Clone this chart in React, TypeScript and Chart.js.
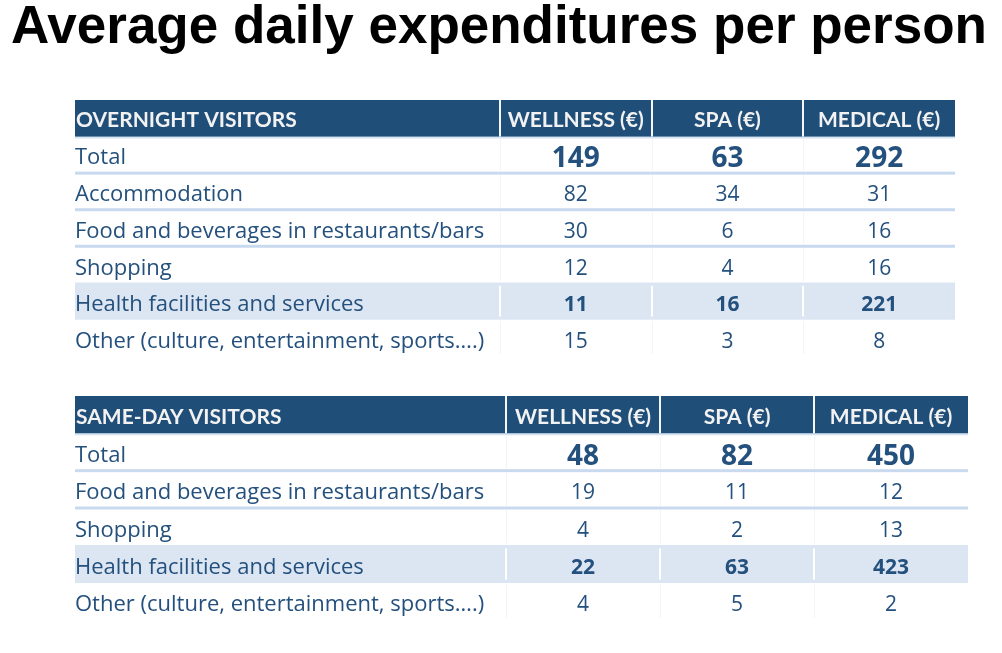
import React, { useEffect, useRef } from "react";
import { Chart, registerables } from "chart.js";

Chart.register(...registerables);

// ---------- data ----------
const TITLE = "Average daily expenditures per person";
const COLUMN_HEADERS = ["WELLNESS (€)", "SPA (€)", "MEDICAL (€)"];
const TOTAL_ROW = "Total";
const HIGHLIGHT_ROW = "Health facilities and services";

const OVERNIGHT_TITLE = "OVERNIGHT VISITORS";
const OVERNIGHT_CATEGORIES = [
  "Total",
  "Accommodation",
  "Food and beverages in restaurants/bars",
  "Shopping",
  "Health facilities and services",
  "Other (culture, entertainment, sports….)",
];
const OVERNIGHT_WELLNESS = [149, 82, 30, 12, 11, 15];
const OVERNIGHT_SPA = [63, 34, 6, 4, 16, 3];
const OVERNIGHT_MEDICAL = [292, 31, 16, 16, 221, 8];

const SAMEDAY_TITLE = "SAME-DAY VISITORS";
const SAMEDAY_CATEGORIES = [
  "Total",
  "Food and beverages in restaurants/bars",
  "Shopping",
  "Health facilities and services",
  "Other (culture, entertainment, sports….)",
];
const SAMEDAY_WELLNESS = [48, 19, 4, 22, 4];
const SAMEDAY_SPA = [82, 11, 2, 63, 5];
const SAMEDAY_MEDICAL = [450, 12, 13, 423, 2];

// ---------- style ----------
const LABEL_UNITS = 2.8; // width of label column in value-column units
const X_MAX = LABEL_UNITS + COLUMN_HEADERS.length;
const HEADER_BLUE = "#1f4e79";
const HIGHLIGHT_BLUE = "#dce6f2";
const SEPARATOR_BLUE = "#c9daef";
const TEXT_BLUE = "#24507d";
const HEADER_FONT = "Lato";
const BODY_FONT = '"Open Sans"';

function makeTablePlugin(values: number[][]) {
  return {
    id: "tableCells",
    afterDatasetsDraw(chart: any) {
      const { ctx } = chart;
      const xs = chart.scales.x;
      const ys = chart.scales.y;
      const labels: string[] = chart.data.labels;
      const n = labels.length;
      const rowH = ys.getPixelForValue(1) - ys.getPixelForValue(0);
      const edges = [0, LABEL_UNITS, LABEL_UNITS + 1, LABEL_UNITS + 2, LABEL_UNITS + 3].map((v) =>
        xs.getPixelForValue(v)
      );
      const left = edges[0];
      const right = edges[edges.length - 1];
      ctx.save();

      // separators & dividers
      for (let i = 0; i < n; i++) {
        const cy = ys.getPixelForValue(i);
        const top = cy - rowH / 2;
        const bottom = cy + rowH / 2;
        const isHeader = i === 0;
        const isHi = labels[i] === HIGHLIGHT_ROW;
        if (isHeader) {
          ctx.fillStyle = "#d6e3f2";
          ctx.fillRect(left, bottom, right - left, 2);
          ctx.fillStyle = "#f4f6f9";
          for (let k = 1; k < edges.length - 1; k++) ctx.fillRect(Math.round(edges[k]) - 1, top, 2, rowH);
        } else if (isHi) {
          ctx.fillStyle = "#ffffff";
          for (let k = 1; k < edges.length - 1; k++) ctx.fillRect(Math.round(edges[k]) - 1, top + 3, 2, rowH - 6);
        } else {
          ctx.fillStyle = "#f1f4f8";
          for (let k = 1; k < edges.length - 1; k++) ctx.fillRect(Math.round(edges[k]), top + 2, 1, rowH - 4);
          const next = labels[i + 1];
          if (i + 1 < n && next !== HIGHLIGHT_ROW) {
            ctx.fillStyle = SEPARATOR_BLUE;
            ctx.fillRect(left, bottom - 1.5, right - left, 3);
          }
        }
      }

      // text
      for (let i = 0; i < n; i++) {
        const cy = ys.getPixelForValue(i);
        if (i === 0) {
          ctx.fillStyle = "#f2f2f2";
          ctx.font = `bold 21px ${HEADER_FONT}`;
          ctx.textAlign = "left";
          ctx.textBaseline = "alphabetic";
          ctx.fillText(labels[0], left + 1, cy + 9);
          ctx.textAlign = "center";
          COLUMN_HEADERS.forEach((h, j) => {
            ctx.fillText(h, xs.getPixelForValue(LABEL_UNITS + j + 0.5), cy + 9);
          });
          continue;
        }
        const label = labels[i];
        const isTotal = label === TOTAL_ROW;
        const isHi = label === HIGHLIGHT_ROW;
        ctx.fillStyle = TEXT_BLUE;
        ctx.font = `22px ${BODY_FONT}`;
        ctx.textAlign = "left";
        ctx.fillText(label, left, cy + (isTotal ? 9.5 : 10));
        ctx.textAlign = "center";
        if (isTotal) ctx.font = `bold 28px ${BODY_FONT}`;
        else if (isHi) ctx.font = `bold 21px ${BODY_FONT}`;
        else ctx.font = `21px ${BODY_FONT}`;
        values.forEach((series, j) => {
          ctx.fillText(String(series[i - 1]), xs.getPixelForValue(LABEL_UNITS + j + 0.5), cy + (isTotal ? 12.5 : 10));
        });
      }
      ctx.restore();
    },
  };
}

type TableProps = {
  title: string;
  categories: string[];
  wellness: number[];
  spa: number[];
  medical: number[];
  left: number;
  top: number;
  width: number;
  height: number;
};

function ExpenditureTable({ title, categories, wellness, spa, medical, left, top, width, height }: TableProps) {
  const ref = useRef<HTMLCanvasElement>(null);
  useEffect(() => {
    if (!ref.current) return;
    const labels = [title, ...categories];
    const bands = labels.map((l, i) => (i === 0 || l === HIGHLIGHT_ROW ? [0, X_MAX] : null));
    const colors = labels.map((_, i) => (i === 0 ? HEADER_BLUE : HIGHLIGHT_BLUE));
    const chart = new Chart(ref.current, {
      type: "bar",
      data: {
        labels,
        datasets: [
          {
            data: bands as any,
            backgroundColor: colors,
            borderWidth: 0,
            barPercentage: 1,
            categoryPercentage: 1,
          },
        ],
      },
      options: {
        indexAxis: "y",
        animation: false,
        responsive: false,
        events: [],
        layout: { padding: 0 },
        scales: {
          x: { type: "linear", min: 0, max: X_MAX, display: false },
          y: { type: "category", display: false },
        },
        plugins: {
          legend: { display: false },
          tooltip: { enabled: false },
          title: { display: false },
        },
      },
      plugins: [makeTablePlugin([wellness, spa, medical])],
    });
    return () => chart.destroy();
  }, []);
  return (
    <canvas
      ref={ref}
      width={width}
      height={height}
      style={{ position: "absolute", left, top, width, height }}
    />
  );
}

export default function App() {
  return (
    <div style={{ position: "absolute", left: 0, top: 0, width: 1002, height: 653, background: "#ffffff", overflow: "hidden" }}>
      <div
        style={{
          position: "absolute",
          left: 11,
          top: -2,
          font: 'bold 53px "Liberation Sans", Arial, sans-serif',
          lineHeight: "53px",
          color: "#000000",
          whiteSpace: "nowrap",
        }}
      >
        {TITLE}
      </div>
      <ExpenditureTable
        title={OVERNIGHT_TITLE}
        categories={OVERNIGHT_CATEGORIES}
        wellness={OVERNIGHT_WELLNESS}
        spa={OVERNIGHT_SPA}
        medical={OVERNIGHT_MEDICAL}
        left={75}
        top={100}
        width={880}
        height={256}
      />
      <ExpenditureTable
        title={SAMEDAY_TITLE}
        categories={SAMEDAY_CATEGORIES}
        wellness={SAMEDAY_WELLNESS}
        spa={SAMEDAY_SPA}
        medical={SAMEDAY_MEDICAL}
        left={75}
        top={396}
        width={893}
        height={224}
      />
    </div>
  );
}
